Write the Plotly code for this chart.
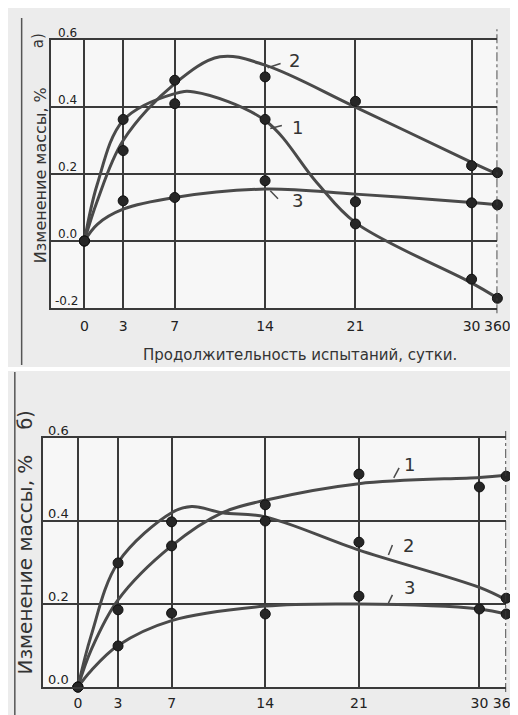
import plotly.graph_objects as go

# ---------------- data ----------------
days = [0, 3, 7, 14, 21, 30, 360]
tick_labels = ["0", "3", "7", "14", "21", "30", "360"]
BREAK_POS = 32  # axis position used for the broken "360" column

# panel a) measured points
a_p1 = [0, 0.363, 0.41, 0.363, 0.051, -0.114, -0.171]
a_p2 = [0, 0.27, 0.48, 0.49, 0.417, 0.225, 0.204]
a_p3 = [0, 0.12, 0.13, 0.18, 0.117, 0.114, 0.108]
# panel a) hand-drawn trend lines
a_c1_x = [0, 1, 3, 7, 8.5, 14, 18, 21, 30, 360]
a_c1_y = [0, 0.17, 0.36, 0.44, 0.445, 0.36, 0.175, 0.055, -0.125, -0.17]
a_c2_x = [0, 1, 3, 7, 10.5, 14, 21, 30, 360]
a_c2_y = [0, 0.12, 0.30, 0.47, 0.55, 0.525, 0.40, 0.235, 0.20]
a_c3_x = [0, 1, 3, 7, 14, 21, 30, 360]
a_c3_y = [0, 0.05, 0.095, 0.13, 0.155, 0.14, 0.115, 0.108]

# panel б) measured points
b_p1 = [0, 0.186, 0.34, 0.439, 0.513, 0.482, 0.508]
b_p2 = [0, 0.299, 0.398, 0.40, 0.349, None, 0.214]
b_p3 = [0, 0.099, 0.178, 0.176, 0.219, 0.188, 0.176]
# panel б) hand-drawn trend lines
b_c1_x = [0, 1, 3, 7, 10.8, 14, 21, 30, 360]
b_c1_y = [0, 0.09, 0.21, 0.34, 0.42, 0.45, 0.49, 0.505, 0.51]
b_c2_x = [0, 1, 3, 7, 8.5, 10.8, 14, 21, 30, 360]
b_c2_y = [0, 0.125, 0.30, 0.42, 0.435, 0.42, 0.41, 0.33, 0.24, 0.21]
b_c3_x = [0, 1, 3, 7, 14, 21, 30, 360]
b_c3_y = [0, 0.04, 0.10, 0.16, 0.195, 0.20, 0.188, 0.176]

y_ticks_a = [-0.2, 0.0, 0.2, 0.4, 0.6]
y_ticks_b = [0.0, 0.2, 0.4, 0.6]

y_title = "Изменение массы, %"
x_title = "Продолжительность испытаний, сутки."


def pos(d):
    return BREAK_POS if d == 360 else d


LINE_COL = "#4a4a4a"
MARK_COL = "#262626"
GRID_COL = "#3a3a3a"
FONT = "DejaVu Sans"

fig = go.Figure()


def add_panel(xa, ya, curves, points):
    for cx, cy in curves:
        fig.add_trace(go.Scatter(
            x=[pos(v) for v in cx], y=cy, xaxis=xa, yaxis=ya, mode="lines",
            line=dict(color=LINE_COL, width=3, shape="spline", smoothing=1.0),
            hoverinfo="skip", showlegend=False, cliponaxis=False))
    for p in points:
        fig.add_trace(go.Scatter(
            x=[pos(v) for v in days], y=p, xaxis=xa, yaxis=ya, mode="markers",
            marker=dict(color=MARK_COL, size=10, line=dict(color="#111", width=1)),
            showlegend=False, cliponaxis=False))


add_panel("x", "y",
          [(a_c1_x, a_c1_y), (a_c2_x, a_c2_y), (a_c3_x, a_c3_y)],
          [a_p1, a_p2, a_p3])
add_panel("x2", "y2",
          [(b_c1_x, b_c1_y), (b_c2_x, b_c2_y), (b_c3_x, b_c3_y)],
          [b_p1, b_p2, b_p3])

grid_pos = [pos(d) for d in days if d != 360]


def xaxis_cfg(domain, anchor, standoff):
    return dict(
        domain=domain, anchor=anchor, range=[-2.6, BREAK_POS], showgrid=False,
        zeroline=False, tickmode="array", tickvals=[pos(d) for d in days],
        ticktext=tick_labels, ticks="", ticklabelstandoff=standoff,
        tickfont=dict(family=FONT, size=14, color="#222"),
        showline=True, mirror=True, linecolor=GRID_COL, linewidth=1.6,
        minor=dict(tickmode="array", tickvals=grid_pos, showgrid=True,
                   gridcolor=GRID_COL, gridwidth=1.6, ticks=""),
    )


def yaxis_cfg(domain, rng, ticks, anchor):
    return dict(
        domain=domain, range=rng, anchor=anchor, showgrid=True,
        gridcolor=GRID_COL, gridwidth=1.6, zeroline=False,
        tickmode="array", tickvals=ticks, showticklabels=False, ticks="",
        showline=True, linecolor=GRID_COL, linewidth=1.6,
    )


fig.update_layout(
    width=518, height=715,
    margin=dict(l=0, r=0, t=0, b=0),
    paper_bgcolor="#ececec",
    plot_bgcolor="#f7f7f7",
    xaxis=xaxis_cfg([0.0849, 0.9691], "y", 4),
    yaxis=yaxis_cfg([0.5804, 0.9552], [-0.2, 0.6], y_ticks_a, "x"),
    xaxis2=xaxis_cfg([0.0695, 0.9865], "y2", 2),
    yaxis2=yaxis_cfg([0.0503, 0.3986], [0.0, 0.6], y_ticks_b, "x2"),
)

shapes = []
# dashed "360" break lines
for xr, yr in (("x", "y domain"), ("x2", "y2 domain")):
    shapes.append(dict(type="line", xref=xr, yref=yr, x0=BREAK_POS, x1=BREAK_POS,
                       y0=-0.02, y1=1.04,
                       line=dict(color=GRID_COL, width=1.8, dash="dashdot")))
# separator between the two scanned panels
shapes.append(dict(type="line", xref="paper", yref="paper", x0=0, x1=1,
                   y0=1 - 361 / 715, y1=1 - 361 / 715,
                   line=dict(color="#ffffff", width=4), layer="below"))
shapes.append(dict(type="line", xref="paper", yref="paper", x0=14 / 518, x1=14 / 518,
                   y0=1 - 357 / 715, y1=1 - 10 / 715,
                   line=dict(color="#555", width=1.5), layer="below"))
shapes.append(dict(type="line", xref="paper", yref="paper", x0=7 / 518, x1=7 / 518,
                   y0=0, y1=1 - 364 / 715,
                   line=dict(color="#555", width=1.5), layer="below"))

# curve label leaders
leaders = [
    ("x", "y", 14.2, 0.517, 15.2, 0.53),
    ("x", "y", 14.4, 0.336, 15.3, 0.345),
    ("x", "y", 14.4, 0.15, 15.0, 0.126),
    ("x2", "y2", 23.6, 0.504, 24.0, 0.528),
    ("x2", "y2", 23.2, 0.318, 23.5, 0.342),
    ("x2", "y2", 23.2, 0.202, 23.5, 0.222),
]
for xr, yr, x0, y0, x1, y1 in leaders:
    shapes.append(dict(type="line", xref=xr, yref=yr, x0=x0, y0=y0, x1=x1, y1=y1,
                       line=dict(color=LINE_COL, width=1.5)))
fig.update_layout(shapes=shapes)

ann = []
curve_labels = [
    ("x", "y", 16.3, 0.54, "2"),
    ("x", "y", 16.5, 0.34, "1"),
    ("x", "y", 16.5, 0.12, "3"),
    ("x2", "y2", 24.8, 0.535, "1"),
    ("x2", "y2", 24.7, 0.342, "2"),
    ("x2", "y2", 24.8, 0.239, "3"),
]
for xr, yr, x, y, t in curve_labels:
    ann.append(dict(xref=xr, yref=yr, x=x, y=y, text=t, showarrow=False,
                    xanchor="center", yanchor="middle",
                    font=dict(family=FONT, size=18, color="#333")))

# y tick labels sitting just above each grid line, inside the frame
for t in y_ticks_a:
    ann.append(dict(xref="x domain", yref="y", x=0.012 if t >= 0 else 0.004, y=t,
                    text=f"{t:.1f}", showarrow=False, xanchor="left",
                    yanchor="bottom", yshift=-2,
                    font=dict(family=FONT, size=12, color="#222")))
for t in y_ticks_b:
    ann.append(dict(xref="x2 domain", yref="y2", x=0.006, y=t,
                    text=f"{t:.1f}", showarrow=False, xanchor="left",
                    yanchor="bottom", yshift=-2,
                    font=dict(family=FONT, size=13, color="#222")))

# axis titles and panel letters
ann += [
    dict(xref="paper", yref="paper", x=33 / 518, y=1 - 167 / 715, text=y_title,
         textangle=-90, showarrow=False, xanchor="center", yanchor="middle",
         font=dict(family=FONT, size=16, color="#333")),
    dict(xref="paper", yref="paper", x=31 / 518, y=1 - 33 / 715, text="а)",
         textangle=-90, showarrow=False, xanchor="center", yanchor="middle",
         font=dict(family=FONT, size=15, color="#333")),
    dict(xref="paper", yref="paper", x=300 / 518, y=1 - 347 / 715, text=x_title,
         showarrow=False, xanchor="center", yanchor="middle",
         font=dict(family=FONT, size=15, color="#333")),
    dict(xref="paper", yref="paper", x=17 / 518, y=1 - 557 / 715, text=y_title,
         textangle=-90, showarrow=False, xanchor="center", yanchor="middle",
         font=dict(family=FONT, size=20, color="#333")),
    dict(xref="paper", yref="paper", x=17 / 518, y=1 - 412 / 715, text="б)",
         textangle=-90, showarrow=False, xanchor="center", yanchor="middle",
         font=dict(family=FONT, size=19, color="#333")),
]
fig.update_layout(annotations=ann)

fig.write_html("out.html")
